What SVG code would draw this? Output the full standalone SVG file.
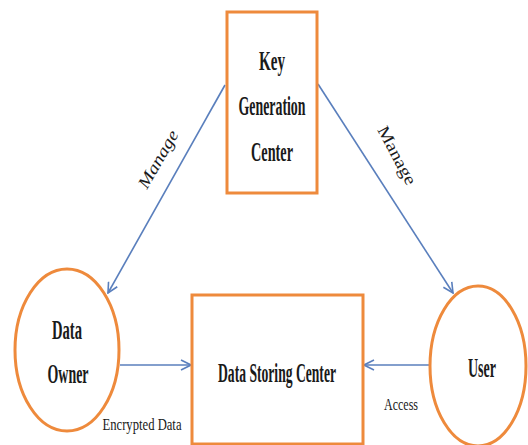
<svg xmlns="http://www.w3.org/2000/svg" width="528" height="445" viewBox="0 0 528 445">
<defs>
<style>
.node{fill:#fff;stroke:#EE8A3C;stroke-width:3}
.lbl{font-family:"Liberation Serif","Times New Roman",serif;font-weight:bold;font-size:28px;fill:#1a1a1a;text-anchor:middle}
.edge{stroke:#5A7FBD;stroke-width:1.6;fill:none;marker-end:url(#ah)}
.elbl{font-family:"Liberation Serif","Times New Roman",serif;font-size:17px;fill:#1a1a1a;text-anchor:middle}
</style>
<marker id="ah" viewBox="0 0 12 12" refX="11" refY="6" markerWidth="12" markerHeight="12" markerUnits="userSpaceOnUse" orient="auto">
<path d="M1,1 L11,6 L1,11" fill="none" stroke="#5A7FBD" stroke-width="1.6"/>
</marker>
</defs>
<rect width="528" height="445" fill="#fff"/>
<g id="connectors">
<line class="edge" x1="225" y1="85" x2="108" y2="293"/>
<line class="edge" x1="318" y1="84" x2="453" y2="293"/>
<line class="edge" x1="120" y1="365" x2="191" y2="365"/>
<line class="edge" x1="430" y1="365" x2="364" y2="365"/>
<text class="elbl" font-style="italic" transform="translate(163,162) rotate(-60)" textLength="64" lengthAdjust="spacingAndGlyphs">Manage</text>
<text class="elbl" transform="translate(392,158) rotate(62)" textLength="64" lengthAdjust="spacingAndGlyphs">Manage</text>
<text class="elbl" x="142" y="430" textLength="79" lengthAdjust="spacingAndGlyphs">Encrypted Data</text>
<text class="elbl" x="401" y="410" textLength="34" lengthAdjust="spacingAndGlyphs">Access</text>
</g>
<g id="kgc">
<rect class="node" x="227" y="12" width="90" height="181"/>
<text class="lbl" x="272" y="70" textLength="26" lengthAdjust="spacingAndGlyphs">Key</text>
<text class="lbl" x="272" y="115" textLength="67" lengthAdjust="spacingAndGlyphs">Generation</text>
<text class="lbl" x="272" y="161" textLength="42" lengthAdjust="spacingAndGlyphs">Center</text>
</g>
<g id="owner">
<ellipse class="node" cx="67" cy="350" rx="52" ry="81"/>
<text class="lbl" x="67" y="339" textLength="30" lengthAdjust="spacingAndGlyphs">Data</text>
<text class="lbl" x="68" y="383" textLength="41" lengthAdjust="spacingAndGlyphs">Owner</text>
</g>
<g id="storage">
<rect class="node" x="192" y="295" width="171" height="149"/>
<text class="lbl" x="277" y="382" textLength="118" lengthAdjust="spacingAndGlyphs">Data Storing Center</text>
</g>
<g id="user">
<ellipse class="node" cx="478" cy="366" rx="48" ry="80"/>
<text class="lbl" x="482" y="377" textLength="28" lengthAdjust="spacingAndGlyphs">User</text>
</g>
</svg>
